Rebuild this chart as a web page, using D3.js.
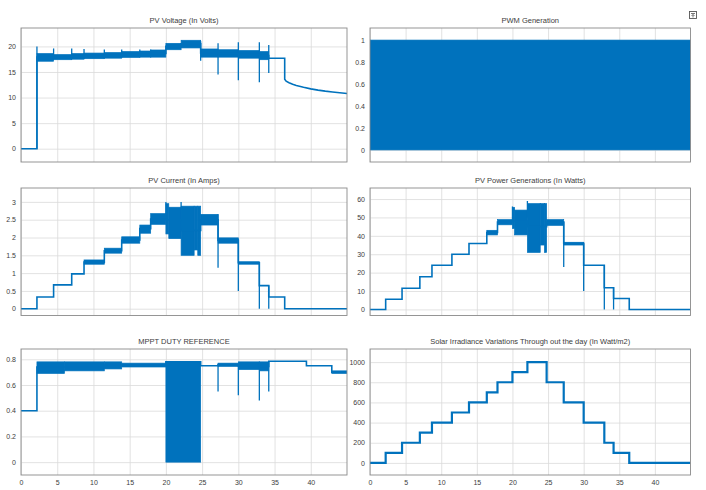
<!DOCTYPE html>
<html>
<head>
<meta charset="utf-8">
<script src="https://cdn.jsdelivr.net/npm/d3@7"></script>
<style>
  body { margin: 0; background: #fff; }
  svg text { font-family: "Liberation Sans Narrow", "Liberation Sans", Arial, sans-serif; fill: #3c3c3c; }
</style>
</head>
<body>
<div id="chart"></div>
<script>
const width = 706;
const height = 490;
const blue = "#0072bd";

// shared time axis (breakpoints of the irradiance steps)
const xTicks = [0, 5, 10, 15, 20, 25, 30, 35, 40];
const stepT = [0, 2.2, 4.5, 7.0, 8.7, 11.5, 13.9, 16.4, 17.9, 20.0, 22.1, 24.8, 27.2, 30.0, 32.9, 34.2, 36.4, 45];

// PV voltage
const voltT = [0, 2.2, 4.5, 7.0, 8.7, 11.5, 13.9, 16.4, 17.9, 20.0, 22.1, 24.8, 27.2, 30.0, 32.9, 34.2, 36.4];
const voltV = [0, 17.9, 17.9, 18.1, 18.1, 18.2, 18.4, 18.5, 18.6, 20.0, 20.5, 18.7, 18.6, 18.4, 18.2, 17.7];
const voltDecayT = [36.4, 36.6, 37.0, 37.5, 38, 39, 40, 41, 42, 43, 44, 45];
const voltDecayV = [13.6, 13.2, 12.9, 12.6, 12.35, 12.0, 11.7, 11.45, 11.25, 11.1, 10.95, 10.8];
const voltBands = [
  [2.2, 4.5, 17.1, 18.6], [4.5, 7.0, 17.4, 18.4], [7.0, 8.7, 17.5, 18.6],
  [8.7, 11.5, 17.6, 18.7], [11.5, 13.9, 17.7, 18.8], [13.9, 16.4, 17.85, 19.0],
  [16.4, 17.9, 17.9, 19.1], [17.9, 20.0, 17.9, 19.3], [20.0, 22.1, 19.35, 20.6],
  [22.1, 24.8, 19.7, 21.2], [24.8, 27.2, 17.9, 19.5], [27.2, 30.0, 17.9, 19.35],
  [30.0, 32.9, 17.7, 19.2], [32.9, 34.2, 17.4, 19.0]
];
const voltSpikes = [
  [2.2, 0, 20.0], [4.5, 17.5, 19.6], [7.0, 17.5, 19.6], [8.7, 17.6, 19.5],
  [11.5, 17.7, 19.4], [13.9, 17.8, 19.4], [16.4, 17.9, 19.4], [17.9, 17.9, 19.4],
  [24.8, 17.2, 21.0], [27.2, 14.5, 20.6], [30.0, 13.4, 20.8], [32.9, 13.0, 20.8], [34.2, 14.8, 20.3]
];

// PWM generation
const pwmBands = [[0, 45, 0, 1]];

// PV current
const curV = [0, 0.33, 0.67, 0.98, 1.31, 1.63, 1.93, 2.25, 2.52, 2.5, 2.2, 2.5, 1.92, 1.29, 0.65, 0.33, 0];
const curBands = [
  [8.7, 11.5, 1.25, 1.37], [11.5, 13.9, 1.56, 1.70], [13.9, 16.4, 1.84, 2.02],
  [16.4, 17.9, 2.12, 2.35], [17.9, 20.0, 2.37, 2.67], [20.0, 20.4, 2.1, 2.95],
  [20.4, 22.1, 1.97, 2.85], [22.1, 23.9, 1.5, 2.88], [23.9, 24.4, 1.65, 2.88],
  [24.4, 24.8, 1.5, 2.88], [24.8, 27.2, 2.35, 2.65], [27.2, 30.0, 1.84, 1.99],
  [30.0, 32.9, 1.25, 1.32]
];
const curSpikes = [[20.0, 2.5, 3.0], [22.1, 2.5, 3.0], [27.2, 1.15, 2.65], [30.0, 0.5, 1.95], [32.9, 0, 1.3], [34.2, 0, 0.65]];

// PV power
const powV = [0, 5.5, 11.5, 17.8, 24, 30, 35.8, 41.8, 47.5, 48, 45, 47.2, 36, 24, 11.8, 5.9, 0];
const powBands = [
  [16.4, 17.9, 40.5, 43], [17.9, 20.0, 46, 48.8], [20.0, 20.3, 44, 55.5],
  [20.3, 22.1, 40.5, 54], [22.1, 23.9, 31, 57.5], [23.9, 24.5, 35, 57.5],
  [24.5, 24.8, 31, 57.5], [24.8, 27.2, 45.7, 48.8], [27.2, 30.0, 35, 36.5]
];
const powSpikes = [[20.0, 48, 56], [22.1, 50, 59], [27.2, 23, 48], [30.0, 10, 36], [32.9, 0, 24], [34.2, 0, 12]];

// MPPT duty reference
const dutyT = [0, 2.2, 11.5, 13.9, 20.0, 24.8, 27.2, 30.0, 32.9, 34.2, 39.4, 42.9, 45];
const dutyV = [0.40, 0.74, 0.755, 0.755, 0.78, 0.75, 0.76, 0.75, 0.745, 0.785, 0.75, 0.70];
const dutyBands = [
  [2.2, 6.0, 0.69, 0.78], [6.0, 11.5, 0.71, 0.78], [11.5, 13.9, 0.725, 0.78],
  [13.9, 20.0, 0.74, 0.77], [20.0, 24.8, 0.0, 0.78], [27.2, 30.0, 0.745, 0.77],
  [30.0, 32.9, 0.72, 0.78], [32.9, 34.2, 0.71, 0.78], [42.9, 45, 0.69, 0.71]
];
const dutySpikes = [[27.2, 0.55, 0.76], [30.0, 0.52, 0.76], [32.9, 0.48, 0.78], [34.2, 0.55, 0.78]];

// solar irradiance
const irrV = [0, 100, 200, 300, 400, 500, 600, 700, 800, 900, 1000, 800, 600, 400, 200, 100, 0];

// turn breakpoints + levels into a step polyline
function stepPoints(ts, vs) {
  const pts = [];
  for (let i = 0; i < ts.length - 1; i++) {
    pts.push([ts[i], vs[i]], [ts[i + 1], vs[i]]);
  }
  return pts;
}

const panels = [
  { title: "PV Voltage (In Volts)", col: 0, row: 0, y: [-2.6, 23.6], ticks: [0, 5, 10, 15, 20],
    line: stepPoints(voltT, voltV).concat(voltDecayT.map((t, i) => [t, voltDecayV[i]])),
    bands: voltBands, spikes: voltSpikes },
  { title: "PWM Generation", col: 1, row: 0, y: [-0.11, 1.11], ticks: [0, 0.2, 0.4, 0.6, 0.8, 1],
    line: [], bands: pwmBands, spikes: [] },
  { title: "PV Current (In Amps)", col: 0, row: 1, y: [-0.19, 3.39], ticks: [0, 0.5, 1, 1.5, 2, 2.5, 3],
    line: stepPoints(stepT, curV), bands: curBands, spikes: curSpikes },
  { title: "PV Power Generations (In Watts)", col: 1, row: 1, y: [-3.3, 66], ticks: [0, 10, 20, 30, 40, 50, 60],
    line: stepPoints(stepT, powV), bands: powBands, spikes: powSpikes },
  { title: "MPPT DUTY REFERENCE", col: 0, row: 2, y: [-0.1, 0.88], ticks: [0, 0.2, 0.4, 0.6, 0.8],
    line: stepPoints(dutyT, dutyV), bands: dutyBands, spikes: dutySpikes },
  { title: "Solar Irradiance Variations Through out the day (In Watt/m2)", col: 1, row: 2, y: [-120, 1130],
    ticks: [0, 200, 400, 600, 800, 1000], line: stepPoints(stepT, irrV), bands: [], spikes: [], lw: 2.2 }
];

const cols = [{ x0: 21, x1: 347 }, { x0: 370, x1: 690.5 }];
const rows = [{ y0: 28, y1: 162 }, { y0: 188, y1: 315.5 }, { y0: 349, y1: 475 }];

const svg = d3.select("#chart").append("svg")
  .attr("width", width).attr("height", height)
  .attr("viewBox", `0 0 ${width} ${height}`);

function drawPanel(p, idx) {
  const c = cols[p.col], r = rows[p.row];
  const x = d3.scaleLinear().domain([0, 45]).range([c.x0, c.x1]);
  const y = d3.scaleLinear().domain(p.y).range([r.y1, r.y0]);
  const g = svg.append("g");

  g.append("clipPath").attr("id", `clip${idx}`)
    .append("rect").attr("x", c.x0).attr("y", r.y0)
    .attr("width", c.x1 - c.x0).attr("height", r.y1 - r.y0);

  // grid + tick labels
  const xa = d3.axisBottom(x).tickValues(xTicks).tickSize(-(r.y1 - r.y0)).tickPadding(5)
    .tickFormat(p.row === 2 ? d3.format("d") : () => "");
  g.append("g").attr("transform", `translate(0,${r.y1})`).call(xa);
  const ya = d3.axisLeft(y).tickValues(p.ticks).tickSize(-(c.x1 - c.x0)).tickPadding(5)
    .tickFormat(d3.format("~g"));
  g.append("g").attr("transform", `translate(${c.x0},0)`).call(ya);
  g.selectAll(".domain").remove();
  g.selectAll(".tick line").attr("stroke", "#dadada").attr("stroke-width", 0.8);
  g.selectAll(".tick text").attr("font-size", 7).attr("fill", "#3c3c3c");

  const plot = g.append("g").attr("clip-path", `url(#clip${idx})`);

  // noisy stretches: filled bands (stroked so neighbours join without seams)
  plot.selectAll("rect.band").data(p.bands).enter().append("rect")
    .attr("class", "band")
    .attr("x", d => x(d[0])).attr("width", d => x(d[1]) - x(d[0]))
    .attr("y", d => y(d[3])).attr("height", d => y(d[2]) - y(d[3]))
    .attr("fill", blue).attr("stroke", blue).attr("stroke-width", 0.7);

  plot.selectAll("line.spike").data(p.spikes).enter().append("line")
    .attr("class", "spike")
    .attr("x1", d => x(d[0])).attr("x2", d => x(d[0]))
    .attr("y1", d => y(d[1])).attr("y2", d => y(d[2]))
    .attr("stroke", blue).attr("stroke-width", 1.3);

  if (p.line.length) {
    plot.append("path").datum(p.line)
      .attr("d", d3.line().x(d => x(d[0])).y(d => y(d[1])))
      .attr("fill", "none").attr("stroke", blue)
      .attr("stroke-width", p.lw || 1.6).attr("stroke-linejoin", "miter");
  }

  // box
  g.append("rect").attr("x", c.x0).attr("y", r.y0)
    .attr("width", c.x1 - c.x0).attr("height", r.y1 - r.y0)
    .attr("fill", "none").attr("stroke", "#8a8a8a").attr("stroke-width", 0.9);

  g.append("text").attr("x", (c.x0 + c.x1) / 2).attr("y", r.y0 - 5)
    .attr("text-anchor", "middle").attr("font-size", 7.5).text(p.title);
}

panels.forEach(drawPanel);

// little undock icon, top right
const icon = svg.append("g").attr("transform", "translate(689.5,11.5)");
icon.append("rect").attr("width", 7).attr("height", 7)
  .attr("fill", "#fff").attr("stroke", "#555").attr("stroke-width", 0.9);
icon.append("path").attr("d", "M1.5,2 H5.5 M3.5,6 V3 M2,4.5 L3.5,3 L5,4.5")
  .attr("fill", "none").attr("stroke", "#555").attr("stroke-width", 0.8);
</script>
</body>
</html>
